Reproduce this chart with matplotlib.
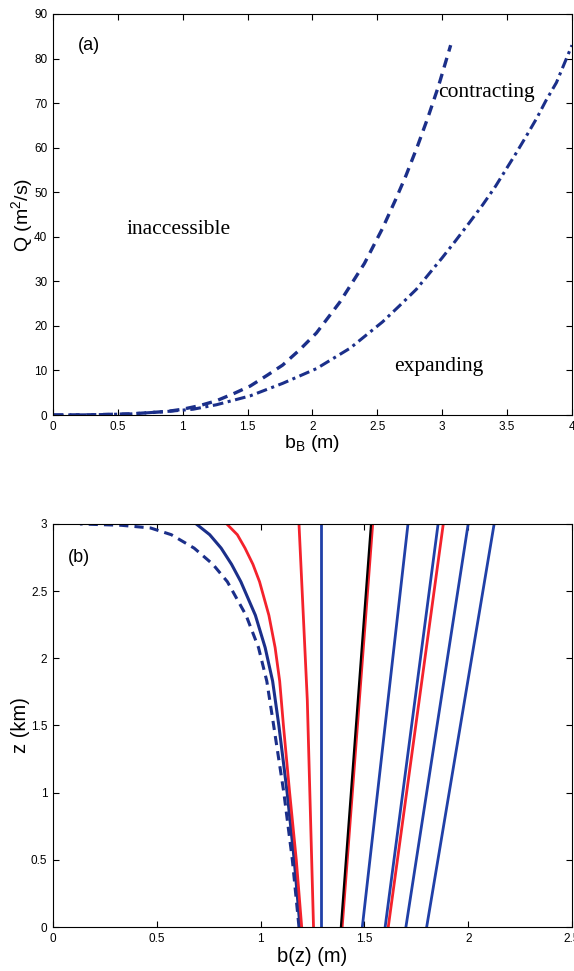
import matplotlib
matplotlib.use('Agg')
import matplotlib.pyplot as plt
from matplotlib.ticker import FormatStrFormatter

# ---- panel (a): discharge vs base width ----
b_contract = [0, 0.3, 0.6, 0.88, 1.0, 1.13, 1.26, 1.4, 1.52, 1.65, 1.77, 1.9, 2.03, 2.21,
              2.40, 2.54, 2.64, 2.72, 2.81, 2.89, 2.97, 3.065]
q_contract = [0, 0.05, 0.25, 0.8, 1.3, 2.1, 3.2, 4.9, 6.5, 8.9, 11.2, 14.6, 18.4, 25.3,
              34, 41.9, 48.3, 53.7, 60.4, 66.8, 73.7, 83]

b_expand = [0, 0.3, 0.6, 0.88, 1.08, 1.26, 1.52, 1.77, 2.03, 2.16, 2.29, 2.54, 2.67, 2.80,
            3.0, 3.1, 3.21, 3.31, 3.41, 3.57, 3.65, 3.73, 3.80, 3.88, 4.0]
q_expand = [0, 0.05, 0.25, 0.8, 1.3, 2.3, 4.3, 7.1, 10.4, 12.7, 15.0, 20.9, 24.5, 28.2,
            35.3, 39.0, 43.2, 47.1, 51.3, 58.8, 62.7, 66.7, 70.6, 74.6, 83]

# ---- panel (b): width profiles b(z) ----
z_curve = [0, 0.5, 1.0, 1.5, 1.83, 2.08, 2.32, 2.57, 2.7, 2.82, 2.92, 3.0]
b_curve_blue = [1.19, 1.162, 1.128, 1.088, 1.058, 1.022, 0.975, 0.905, 0.86, 0.81, 0.755, 0.69]
b_curve_red = [1.198, 1.172, 1.140, 1.110, 1.092, 1.07, 1.04, 0.995, 0.963, 0.925, 0.888, 0.837]

z_dash = [0, 0.5, 1.0, 1.5, 1.83, 2.08, 2.32, 2.57, 2.7, 2.82, 2.92, 2.97, 2.99, 3.0]
b_dash = [1.185, 1.153, 1.112, 1.063, 1.03, 0.99, 0.93, 0.84, 0.77, 0.68, 0.57, 0.47, 0.33, 0.13]

z_red_near = [0, 1.69, 3.0]
b_red_near = [1.255, 1.225, 1.185]

z_ends = [0, 3.0]
blue_straight = [(1.29, 1.29), (1.49, 1.71), (1.60, 1.855), (1.70, 2.00), (1.80, 2.125)]
red_straight = [(1.393, 1.540), (1.615, 1.88)]
black_straight = [(1.387, 1.532)]

sans = 'Liberation Sans'
serif = 'Liberation Serif'
navy = '#1b2f8a'
blue = '#2040a8'
red = '#f4222c'


def matlab_axes(ax):
    ax.tick_params(direction='in', top=True, right=True, length=4, width=0.8,
                   labelsize=8.5, pad=4)
    for lab in ax.get_xticklabels() + ax.get_yticklabels():
        lab.set_family(sans)
    ax.xaxis.set_major_formatter(FormatStrFormatter('%g'))
    ax.yaxis.set_major_formatter(FormatStrFormatter('%g'))
    for s in ax.spines.values():
        s.set_linewidth(0.8)


fig = plt.figure(figsize=(5.74, 9.71), dpi=100)
ax1 = fig.add_axes([0.0923, 0.5726, 0.9042, 0.4130])
ax2 = fig.add_axes([0.0923, 0.0453, 0.9042, 0.4151])

# panel (a)
ax1.plot(b_contract, q_contract, color=navy, linestyle=(0, (3, 2)), linewidth=2.4)
ax1.plot(b_expand, q_expand, color=navy, linestyle=(0, (3.5, 1.5, 1, 1.5)), linewidth=2.2)
ax1.set_xlim(0, 4)
ax1.set_ylim(0, 90)
ax1.set_xticks([0, 0.5, 1, 1.5, 2, 2.5, 3, 3.5, 4])
ax1.set_yticks(range(0, 91, 10))
ax1.set_xlabel(r'b$_\mathregular{B}$ (m)', fontsize=14, family=sans, labelpad=0)
ax1.set_ylabel(r'Q (m$^\mathregular{2}$/s)', fontsize=14, family=sans, labelpad=-1)
ax1.text(0.19, 83, '(a)', fontsize=13, family=sans, va='center')
ax1.text(0.965, 41.7, 'inaccessible', fontsize=15.5, family=serif, ha='center', va='center')
ax1.text(3.34, 72.3, 'contracting', fontsize=15.5, family=serif, ha='center', va='center')
ax1.text(2.97, 10.8, 'expanding', fontsize=15.5, family=serif, ha='center', va='center')
matlab_axes(ax1)

# panel (b)
ax2.plot(b_dash, z_dash, color=navy, linestyle=(0, (3, 2)), linewidth=2.2)
ax2.plot(b_curve_blue, z_curve, color=navy, linewidth=2.2)
ax2.plot(b_curve_red, z_curve, color=red, linewidth=2.0)
ax2.plot(b_red_near, z_red_near, color=red, linewidth=2.0)
for b0, b3 in red_straight:
    ax2.plot([b0, b3], z_ends, color=red, linewidth=2.0)
for b0, b3 in black_straight:
    ax2.plot([b0, b3], z_ends, color='black', linewidth=1.6)
for b0, b3 in blue_straight:
    ax2.plot([b0, b3], z_ends, color=blue, linewidth=2.0)
ax2.set_xlim(0, 2.5)
ax2.set_ylim(0, 3)
ax2.set_xticks([0, 0.5, 1, 1.5, 2, 2.5])
ax2.set_yticks([0, 0.5, 1, 1.5, 2, 2.5, 3])
ax2.set_xlabel('b(z) (m)', fontsize=14.5, family=sans, labelpad=2)
ax2.set_ylabel('z (km)', fontsize=14.5, family=sans, labelpad=1)
ax2.text(0.07, 2.75, '(b)', fontsize=13, family=sans, va='center')
matlab_axes(ax2)

fig.savefig('out.png', dpi=100)
